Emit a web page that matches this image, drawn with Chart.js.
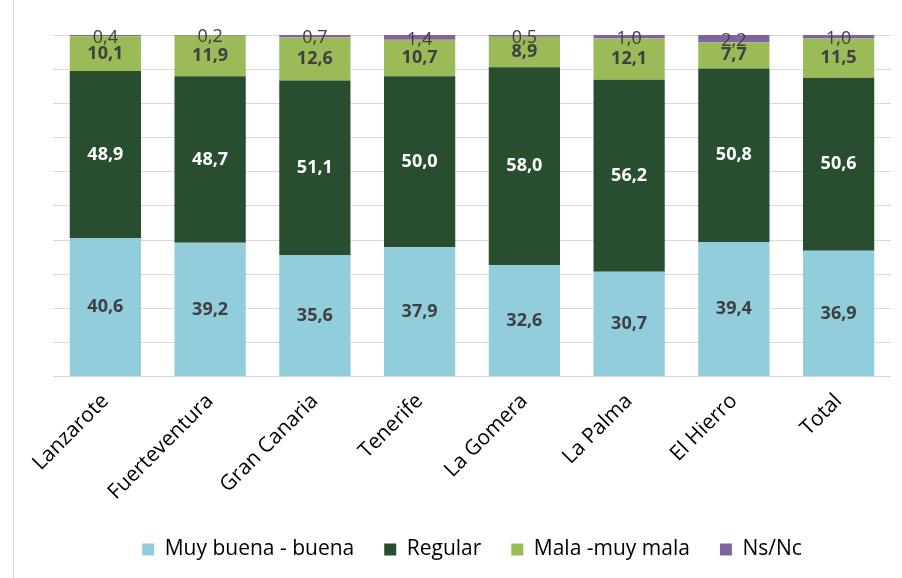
<!DOCTYPE html>
<html>
<head>
<meta charset="utf-8">
<script src="https://cdn.jsdelivr.net/npm/chart.js@4"></script>
<style>
  body { margin: 0; background: #fff; }
  #wrap { width: 902px; height: 578px; position: relative; }
</style>
</head>
<body>
<div id="wrap"><canvas id="grafica"></canvas></div>
<script>
const islas = ['Lanzarote', 'Fuerteventura', 'Gran Canaria', 'Tenerife', 'La Gomera', 'La Palma', 'El Hierro', 'Total'];
const muyBuena = [40.6, 39.2, 35.6, 37.9, 32.6, 30.7, 39.4, 36.9];
const regular = [48.9, 48.7, 51.1, 50.0, 58.0, 56.2, 50.8, 50.6];
const mala = [10.1, 11.9, 12.6, 10.7, 8.9, 12.1, 7.7, 11.5];
const nsnc = [0.4, 0.2, 0.7, 1.4, 0.5, 1.0, 2.2, 1.0];

const FUENTE = 'Open Sans, Liberation Sans, sans-serif';
const coloresTexto = ['#404040', '#ffffff', '#404040', '#404040'];

// etiquetas de valor centradas en cada tramo
const etiquetasPlugin = {
    id: 'etiquetas',
    afterDatasetsDraw(chart) {
        const ctx = chart.ctx;
        ctx.save();
        ctx.textAlign = 'center';
        ctx.textBaseline = 'middle';
        chart.data.datasets.forEach((ds, i) => {
            const meta = chart.getDatasetMeta(i);
            ctx.fillStyle = coloresTexto[i];
            ctx.font = (i === 3 ? '' : 'bold ') + '18px ' + FUENTE;
            meta.data.forEach((bar, j) => {
                const v = ds.data[j];
                const y = (bar.y + bar.base) / 2;
                ctx.fillText(v.toFixed(1).replace('.', ','), bar.x, y + (i === 3 ? 2 : 0));
            });
        });
        ctx.restore();
    },
    beforeDraw(chart) {
        const ctx = chart.ctx;
        ctx.save();
        ctx.strokeStyle = '#d9d9d9';
        ctx.lineWidth = 1;
        ctx.beginPath();
        ctx.moveTo(13.5, 0);
        ctx.lineTo(13.5, 578);
        ctx.stroke();
        ctx.restore();
    }
};

new Chart(document.getElementById('grafica'), {
    type: 'bar',
    data: {
        labels: islas,
        datasets: [
            { label: 'Muy buena - buena', data: muyBuena, backgroundColor: '#92CDDC' },
            { label: 'Regular', data: regular, backgroundColor: '#284E2F' },
            { label: 'Mala -muy mala', data: mala, backgroundColor: '#9BBB59' },
            { label: 'Ns/Nc', data: nsnc, backgroundColor: '#8064A2' }
        ]
    },
    options: {
        responsive: true,
        maintainAspectRatio: false,
        animation: false,
        datasets: { bar: { barPercentage: 0.68, categoryPercentage: 1 } },
        layout: { padding: { left: 53, right: 11, top: 35, bottom: 8 } },
        plugins: {
            legend: {
                position: 'bottom',
                labels: {
                    boxWidth: 12, boxHeight: 12, padding: 30, color: '#000',
                    font: { family: FUENTE, size: 21 }
                }
            },
            tooltip: { enabled: false }
        },
        scales: {
            x: {
                stacked: true,
                grid: { display: false },
                border: { display: false },
                ticks: {
                    color: '#000', minRotation: 45, maxRotation: 45,
                    font: { family: FUENTE, size: 21 }, padding: 4
                }
            },
            y: {
                stacked: true, min: 0, max: 100,
                ticks: { display: false, stepSize: 10 },
                grid: { color: '#d9d9d9', drawTicks: false },
                border: { display: false }
            }
        }
    },
    plugins: [etiquetasPlugin]
});
</script>
</body>
</html>
